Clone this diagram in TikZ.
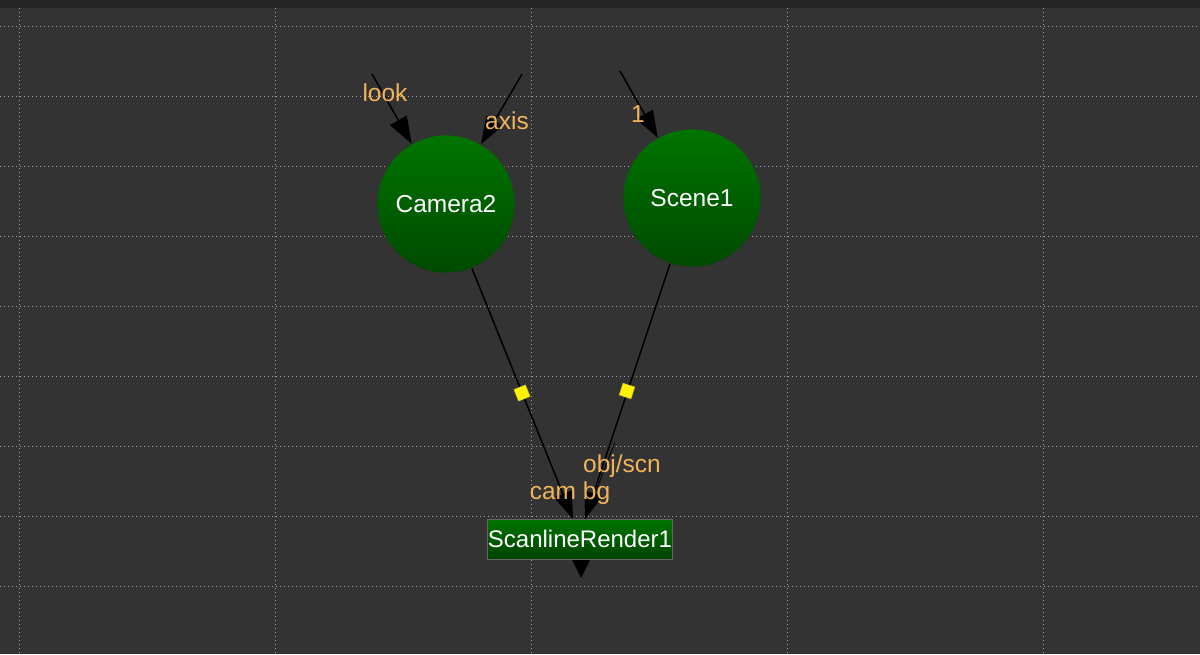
\documentclass[tikz,border=0pt]{standalone}
\usepackage{fontspec}
\setmainfont{Liberation Sans}
\usetikzlibrary{arrows.meta,shapes.geometric}
\definecolor{bg}{HTML}{333333}
\definecolor{topbar}{HTML}{262626}
\definecolor{gridc}{HTML}{A0A0A0}
\definecolor{lbl}{HTML}{F2B45A}
\definecolor{gtop}{HTML}{007500}
\definecolor{gbot}{HTML}{004A00}
\tikzset{
  gridline/.style={gridc, line width=1.0pt, dash pattern=on 1.3pt off 2.7pt},
  circnode/.style={circle, draw=black!80, line width=0.7pt, minimum size=138pt, inner sep=0pt,
     top color=gtop, bottom color=gbot, text=white, font=\fontsize{24.5}{27}\selectfont},
  rectnode/.style={rectangle, draw=black!60, line width=0.6pt, minimum width=185pt, minimum height=40pt, inner sep=0pt,
     top color=gtop, bottom color=gbot!90!black, text=white, font=\fontsize{24}{27}\selectfont},
  edgeline/.style={black, line width=1.5pt, -{Triangle[length=27pt,width=19pt]}},
  lab/.style={text=lbl, font=\fontsize{24.5}{27}\selectfont, inner sep=0pt},
  dot/.style={rectangle, fill=yellow, draw=yellow!70!black, line width=0.4pt, minimum size=12.5pt, inner sep=0pt},
}
\begin{document}
\begin{tikzpicture}[x=1pt,y=-1pt]
\useasboundingbox (0,0) rectangle (1200,654);
\fill[bg] (0,0) rectangle (1200,654);
\fill[topbar] (0,0) rectangle (1200,8);
\fill[black!85] (60,0) rectangle (62,4);
% grid
\foreach \x in {19,275,531,787,1043} \draw[gridline] (\x,8) -- (\x,654);
\foreach \y in {26,96,166,236,306,376,446,516,586} \draw[gridline] (0,\y) -- (1200,\y);
% nodes
\node[circnode] (cam) at (446,204) {Camera2};
\node[circnode] (scn) at (692,198) {Scene1};
\node[rectnode] (sr) at (580,539) {ScanlineRender1};
% input stubs
\coordinate (lookin) at (372,74);
\coordinate (axisin) at (522,74);
\coordinate (onein) at (620,71);
\draw[edgeline] (lookin) -- (cam);
\draw[edgeline] (axisin) -- (cam);
\draw[edgeline] (onein) -- (scn);
\node[lab] (looklbl) at (385,93) {look};
\node[lab] (axislbl) at (507,121) {axis};
\node[lab] (onelbl) at (638,114) {1};
% to scanline render
\coordinate (camin) at (573,519);
\coordinate (scnin) at (585,519);
\draw[edgeline] (cam) -- (camin);
\draw[edgeline] (scn) -- (scnin);
\coordinate (aux) at (615,442);
\draw[black, line width=0.8pt] (aux) -- (scnin);
\node[dot, rotate=22] (d1) at (522,393) {};
\node[dot, rotate=-18] (d2) at (627,391) {};
\node[lab] (camlbl) at (570,493) {cam bg};
\node[lab] (scnlbl) at (622,466) {obj/scn};
% output arrow
\coordinate (outtip) at (581,578);
\fill[black] (572,560) -- (590,560) -- (outtip) -- cycle;
\end{tikzpicture}
\end{document}
